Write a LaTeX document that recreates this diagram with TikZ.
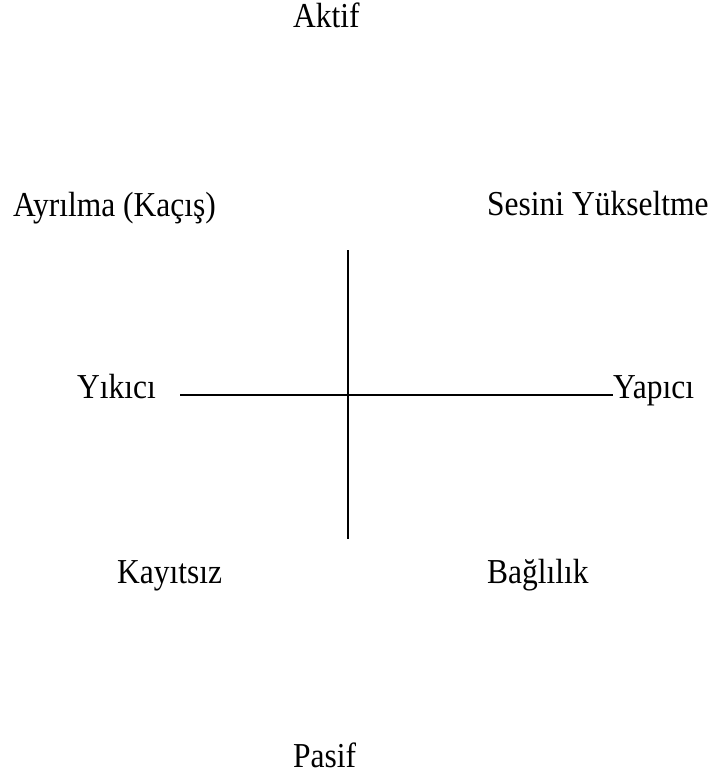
\documentclass[tikz,border=0pt]{standalone}
\usepackage{fontspec}
\usepackage{graphicx}
\setmainfont{Liberation Serif}
\newcommand{\narrowtxt}[1]{\scalebox{0.9}[1]{#1}}
\begin{document}
\begin{tikzpicture}[x=1pt,y=1pt,
  lbl/.style={inner sep=0pt,anchor=base west,font=\fontsize{35}{40}\selectfont},
  axis/.style={line width=2pt,black}]
\useasboundingbox (0,0) rectangle (713,-776);
\node[lbl] (aktif) at (293,-28) {\narrowtxt{Aktif}};
\node[lbl] (ayrilma) at (13,-216) {\narrowtxt{Ayrılma (Kaçış)}};
\node[lbl] (sesini) at (487,-215) {\narrowtxt{Sesini Yükseltme}};
\node[lbl] (yikici) at (77,-398) {\narrowtxt{Yıkıcı}};
\node[lbl] (yapici) at (613,-398) {\narrowtxt{Yapıcı}};
\node[lbl] (kayitsiz) at (117,-583) {\narrowtxt{Kayıtsız}};
\node[lbl] (baglilik) at (487,-583) {\narrowtxt{Bağlılık}};
\node[lbl] (pasif) at (293,-767) {\narrowtxt{Pasif}};
\coordinate (top) at (348,-250);
\coordinate (bottom) at (348,-539);
\coordinate (left) at (180,-395);
\coordinate (right) at (613,-395);
\draw[axis] (top) -- (bottom);
\draw[axis] (left) -- (right);
\end{tikzpicture}
\end{document}
